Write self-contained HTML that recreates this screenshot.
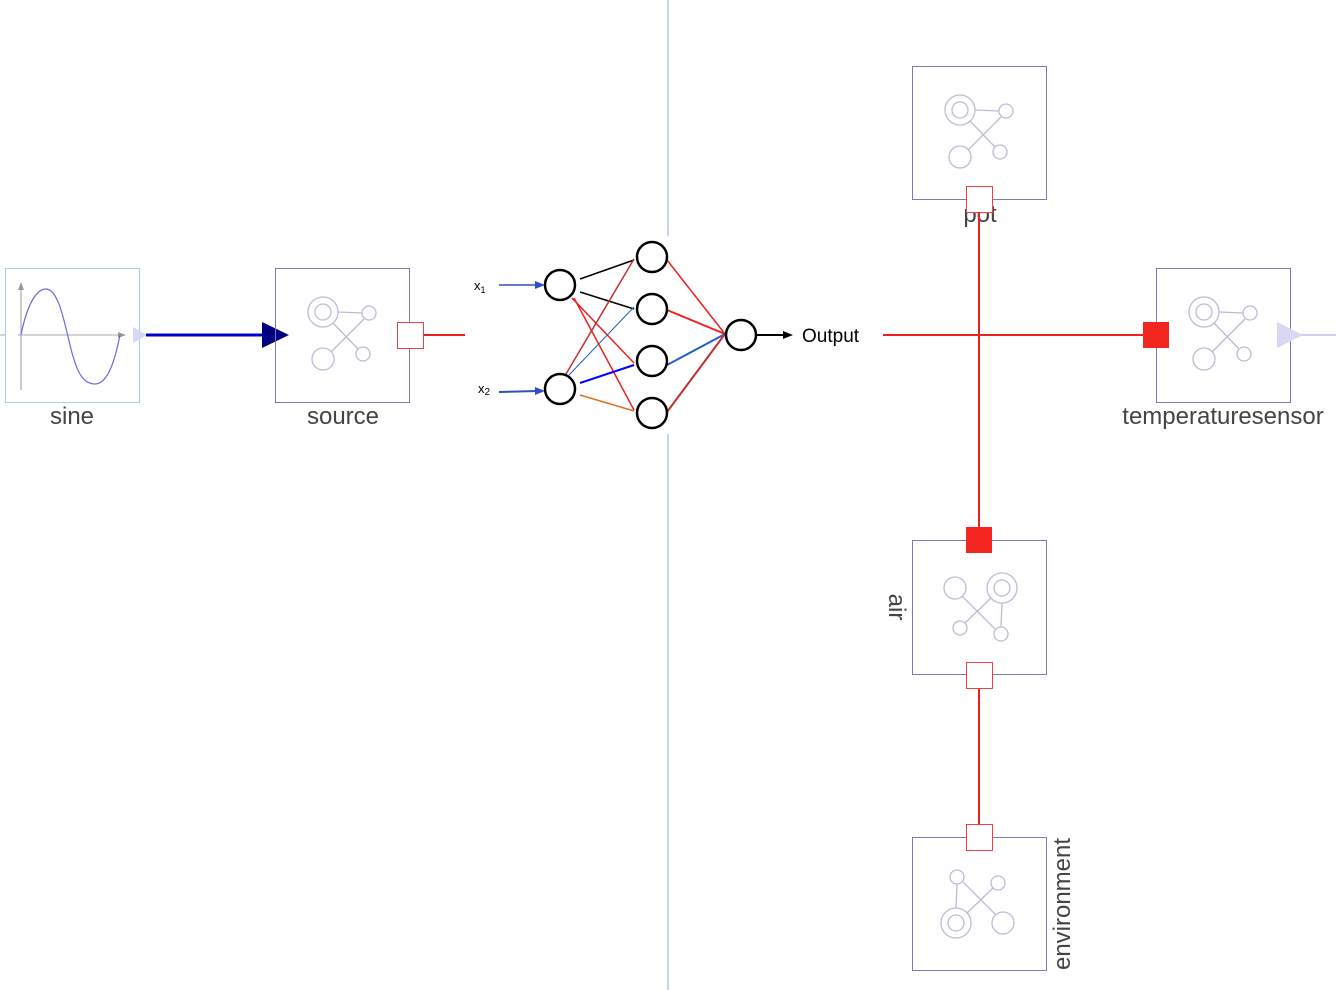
<!DOCTYPE html>
<html><head><meta charset="utf-8"><style>
html,body{margin:0;padding:0;background:#fff;width:1336px;height:990px;overflow:hidden}
text{font-family:"Liberation Sans",sans-serif}
</style></head><body>
<svg width="1336" height="990" viewBox="0 0 1336 990" xmlns="http://www.w3.org/2000/svg">
<defs>
<g id="ic" fill="none" stroke="#bcbcd8" stroke-width="1.3">
<circle cx="48" cy="44" r="15"/><circle cx="48" cy="44" r="8"/>
<circle cx="94" cy="45" r="7"/><line x1="63" y1="44" x2="87" y2="45"/>
<circle cx="88" cy="86" r="7"/><circle cx="48" cy="91" r="11"/>
<line x1="58" y1="55" x2="83" y2="81"/><line x1="89" y1="51" x2="56" y2="84"/>
</g>
</defs>
<line x1="668" y1="0" x2="668" y2="236" stroke="#c8d4e6" stroke-width="2"/>
<line x1="668" y1="434" x2="668" y2="990" stroke="#c8d4e6" stroke-width="2"/>
<line x1="0" y1="335" x2="6" y2="335" stroke="#c8d4e6" stroke-width="2"/>
<line x1="1300" y1="335" x2="1336" y2="335" stroke="#d0d0ee" stroke-width="2"/>

<rect x="5.5" y="268.5" width="134" height="134" fill="#fff" stroke="#a8cdf0"/>
<line x1="21" y1="390" x2="21" y2="286" stroke="#aaa" stroke-width="1.2"/>
<polygon points="21,282 18,290 24,290" fill="#999"/>
<line x1="18" y1="335" x2="122" y2="335" stroke="#bbb" stroke-width="1.2"/>
<polygon points="126,335 118,332 118,338" fill="#999"/>
<path d="M21,335 C28,300 38,289 46,289 C58,289 64,320 70,345 C76,370 82,384 95,384 C108,384 115,360 120,335" fill="none" stroke="#6a6ae0" stroke-width="1.2"/>
<polygon points="133,327 147,335 133,343" fill="#d8d8f4"/>
<text x="72" y="424" font-size="24" fill="#444" text-anchor="middle">sine</text>
<line x1="146" y1="335" x2="266" y2="335" stroke="#0000cc" stroke-width="3"/>
<polygon points="262,322 289,335 262,348" fill="#000080"/>

<rect x="275.5" y="268.5" width="134" height="134" fill="none" stroke="#7a7ab8"/>
<use href="#ic" x="275" y="268"/>
<text x="343" y="424" font-size="24" fill="#444" text-anchor="middle">source</text>
<line x1="423" y1="335" x2="465" y2="335" stroke="#f02020" stroke-width="2"/>
<rect x="397.5" y="322.5" width="26" height="26" fill="#fff" stroke="#f04040"/>

<g stroke-width="1.5" fill="none">
<line x1="580" y1="279" x2="634" y2="260" stroke="#000"/>
<line x1="580" y1="292" x2="634" y2="309" stroke="#000"/>
<line x1="572" y1="298" x2="634" y2="363" stroke="#f02020"/>
<line x1="574" y1="298" x2="634" y2="410" stroke="#f02020"/>
<line x1="566" y1="374" x2="634" y2="259" stroke="#c03030"/>
<line x1="569" y1="375" x2="634" y2="307" stroke="#2060c0" stroke-width="1"/>
<line x1="580" y1="383" x2="634" y2="365" stroke="#0000ff" stroke-width="2"/>
<line x1="580" y1="395" x2="634" y2="411" stroke="#e07020"/>
<line x1="667" y1="260" x2="725" y2="334" stroke="#f02020"/>
<line x1="667" y1="310" x2="725" y2="334" stroke="#f02020" stroke-width="2"/>
<line x1="667" y1="365" x2="725" y2="334" stroke="#2060c0" stroke-width="2"/>
<line x1="667" y1="412" x2="725" y2="334" stroke="#c03030" stroke-width="2"/>
<line x1="499" y1="285" x2="538" y2="285" stroke="#3050c0"/>
<polygon points="545,285 535,281 535,289" fill="#3050c0"/>
<line x1="499" y1="392" x2="538" y2="391" stroke="#3050c0" stroke-width="2"/>
<polygon points="545,391 535,387 535,395" fill="#3050c0"/>
<line x1="756" y1="335" x2="786" y2="335" stroke="#000" stroke-width="2"/>
<polygon points="793,335 783,331 783,339" fill="#000"/>
<g stroke="#000" stroke-width="2.5" fill="#fff">
<circle cx="560" cy="285" r="15"/><circle cx="560" cy="389" r="15"/>
<circle cx="652" cy="257" r="15"/><circle cx="652" cy="309" r="15"/>
<circle cx="652" cy="361" r="15"/><circle cx="652" cy="413" r="15"/>
<circle cx="741" cy="335" r="15"/>
</g>
</g>
<text x="474" y="290" font-size="13" fill="#000">x<tspan font-size="9" dy="3">1</tspan></text>
<text x="478" y="393" font-size="13" fill="#000">x<tspan font-size="10" dy="2">2</tspan></text>
<text x="802" y="342" font-size="19" fill="#000" font-family="Liberation Mono">Output</text>

<line x1="883" y1="335" x2="1143" y2="335" stroke="#f02020" stroke-width="2"/>
<line x1="979" y1="212" x2="979" y2="527" stroke="#f02020" stroke-width="2"/>
<line x1="979" y1="688" x2="979" y2="824" stroke="#f02020" stroke-width="2"/>

<rect x="912.5" y="66.5" width="134" height="133" fill="none" stroke="#7a7ab8"/>
<use href="#ic" x="912" y="66"/>
<text x="980" y="222" font-size="24" fill="#444" text-anchor="middle">pot</text>
<rect x="966.5" y="186.5" width="26" height="26" fill="#fff" stroke="#f04040"/>
<line x1="979" y1="212" x2="979" y2="226" stroke="#f02020" stroke-width="2"/>

<rect x="1156.5" y="268.5" width="134" height="134" fill="none" stroke="#7a7ab8"/>
<use href="#ic" x="1156" y="268"/>
<rect x="1143" y="322" width="26" height="26" fill="#f42620"/>
<polygon points="1277,322 1303,335 1277,348" fill="#d8d8f4"/>
<text x="1223" y="424" font-size="24" fill="#444" text-anchor="middle">temperaturesensor</text>

<rect x="912.5" y="540.5" width="134" height="134" fill="none" stroke="#7a7ab8"/>
<use href="#ic" transform="translate(912,540) rotate(90 67 67)"/>
<rect x="966" y="527" width="26" height="26" fill="#f42620"/>
<rect x="966.5" y="662.5" width="26" height="26" fill="#fff" stroke="#f04040"/>
<text transform="translate(889,607) rotate(90)" font-size="24" fill="#444" text-anchor="middle">air</text>

<rect x="912.5" y="837.5" width="134" height="133" fill="none" stroke="#7a7ab8"/>
<use href="#ic" transform="translate(912,837) rotate(-90 67 67)"/>
<rect x="966.5" y="824.5" width="26" height="26" fill="#fff" stroke="#f04040"/>
<text transform="translate(1070,904) rotate(-90)" font-size="24" fill="#444" text-anchor="middle">environment</text>
</svg>
</body></html>
